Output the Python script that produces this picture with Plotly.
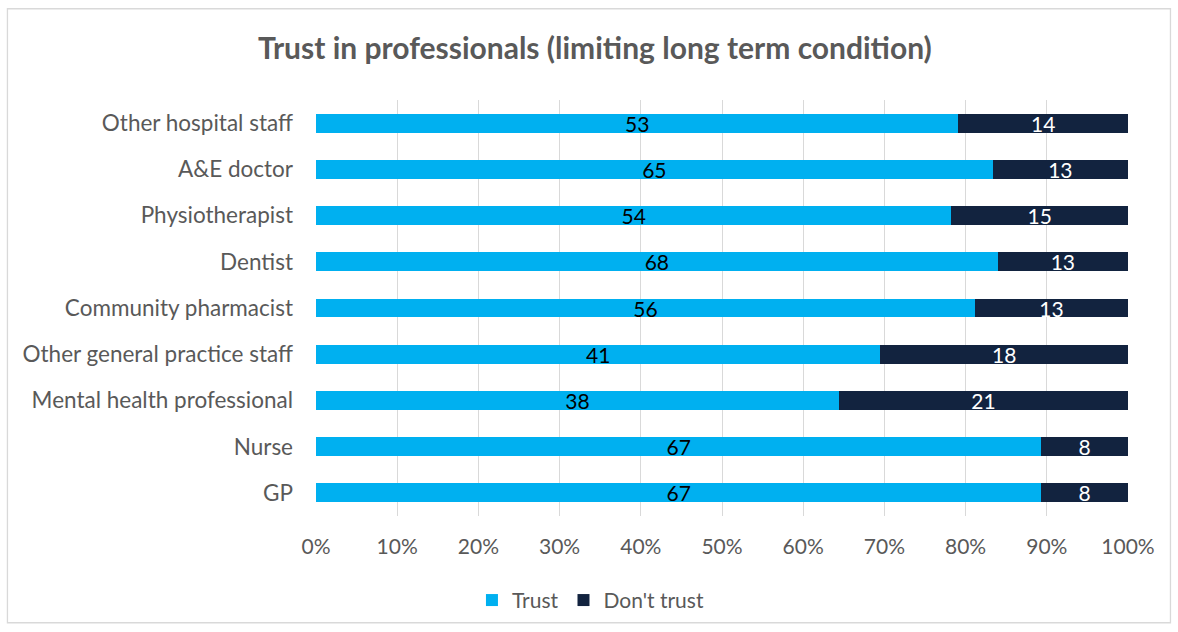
import plotly.graph_objects as go

# Professionals, listed bottom-to-top as drawn on the y axis
professionals = [
    "GP",
    "Nurse",
    "Mental health professional",
    "Other general practice staff",
    "Community pharmacist",
    "Dentist",
    "Physiotherapist",
    "A&E doctor",
    "Other hospital staff",
]
trust = [67, 67, 38, 41, 56, 68, 54, 65, 53]
dont_trust = [8, 8, 21, 18, 13, 13, 15, 13, 14]

tick_vals = [0, 10, 20, 30, 40, 50, 60, 70, 80, 90, 100]
tick_text = [f"{v}%" for v in tick_vals]

FONT = "Lato"
GREY_TEXT = "#595959"
LABEL_SIZE = 21

fig = go.Figure()
fig.add_trace(go.Bar(
    y=professionals, x=trust, name="Trust", orientation="h",
    marker=dict(color="#00B0F0", line=dict(width=0)),
    text=[str(v) for v in trust], textposition="inside",
    insidetextanchor="middle", textangle=0, constraintext="none",
    textfont=dict(family=FONT, size=LABEL_SIZE, color="#000000"),
))
fig.add_trace(go.Bar(
    y=professionals, x=dont_trust, name="Don't trust", orientation="h",
    marker=dict(color="#12233F", line=dict(width=0)),
    text=[str(v) for v in dont_trust], textposition="inside",
    insidetextanchor="middle", textangle=0, constraintext="none",
    textfont=dict(family=FONT, size=LABEL_SIZE, color="#FFFFFF"),
))

fig.update_layout(
    barmode="stack",
    barnorm="percent",
    bargap=0.59,
    width=1178, height=632,
    margin=dict(l=316, r=50, t=100, b=115),
    paper_bgcolor="white", plot_bgcolor="white",
    font=dict(family=FONT, color=GREY_TEXT),
    uniformtext=dict(mode="show", minsize=LABEL_SIZE),
    title=dict(
        text="<b>Trust in professionals (limiting long term condition)</b>",
        font=dict(family=FONT, size=30, color=GREY_TEXT),
        x=0.505, xref="container", xanchor="center",
        y=0.924, yref="container", yanchor="middle",
    ),
    xaxis=dict(
        range=[0, 100], tickvals=tick_vals, ticktext=tick_text,
        showgrid=True, gridcolor="#D9D9D9", gridwidth=1.3,
        zeroline=False, showline=False, ticks="",
        tickfont=dict(family=FONT, size=21, color=GREY_TEXT),
        ticklabelstandoff=16,
    ),
    yaxis=dict(
        showgrid=False, zeroline=False, showline=False, ticks="",
        tickfont=dict(family=FONT, size=22.5, color=GREY_TEXT),
        ticklabelstandoff=22,
    ),
    legend=dict(
        orientation="h", x=0.338, xanchor="center",
        y=-0.2, yanchor="middle",
        font=dict(family=FONT, size=21, color=GREY_TEXT),
        traceorder="normal", itemwidth=30,
    ),
    showlegend=True,
)

# Light border around the whole chart area
fig.add_shape(
    type="rect", xref="paper", yref="paper",
    x0=-0.380, x1=1.0523, y0=-0.2566, y1=1.2194,
    line=dict(color="#D9D9D9", width=1.3), fillcolor="rgba(0,0,0,0)",
    layer="below",
)

fig.write_html("out.html")
